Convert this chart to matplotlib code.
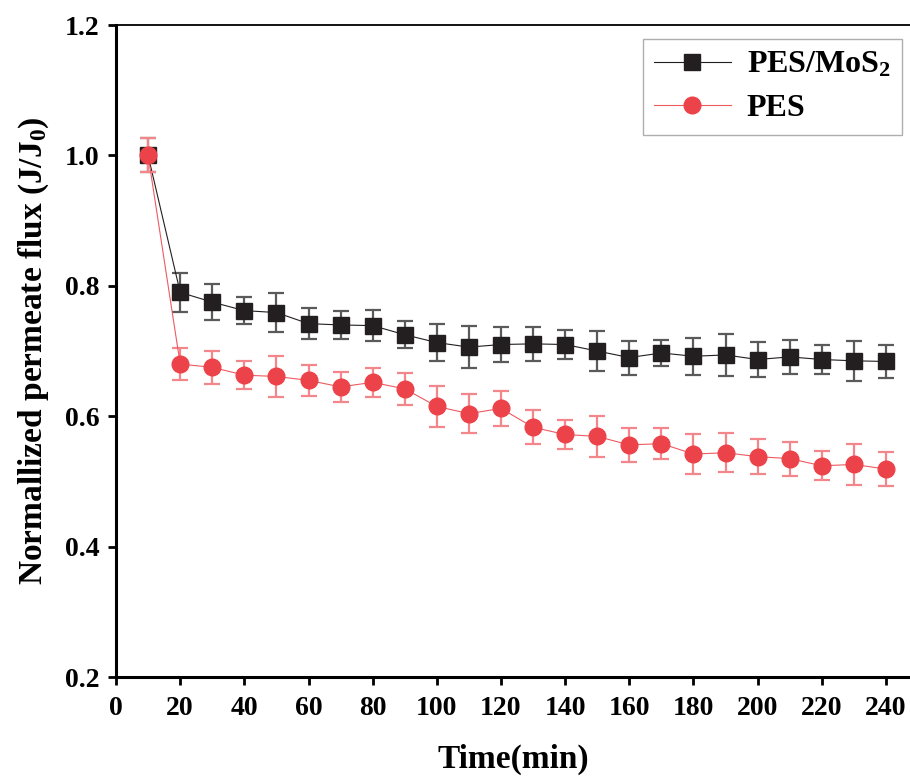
import numpy as np
import matplotlib
matplotlib.use("Agg")
import matplotlib.pyplot as plt

# data
time_min = [10, 20, 30, 40, 50, 60, 70, 80, 90, 100, 110, 120,
            130, 140, 150, 160, 170, 180, 190, 200, 210, 220, 230, 240]
mos2_flux = [1.000, 0.790, 0.775, 0.762, 0.759, 0.742, 0.740, 0.739, 0.725, 0.713, 0.706, 0.710,
             0.711, 0.710, 0.700, 0.690, 0.697, 0.692, 0.694, 0.687, 0.691, 0.687, 0.685, 0.684]
mos2_err = [0.026, 0.030, 0.028, 0.021, 0.030, 0.024, 0.021, 0.024, 0.021, 0.028, 0.032, 0.027,
            0.026, 0.022, 0.031, 0.026, 0.020, 0.028, 0.032, 0.027, 0.026, 0.022, 0.031, 0.026]
pes_flux = [1.000, 0.680, 0.675, 0.663, 0.661, 0.655, 0.645, 0.652, 0.642, 0.615, 0.604, 0.612,
            0.583, 0.572, 0.569, 0.556, 0.558, 0.542, 0.544, 0.538, 0.535, 0.524, 0.526, 0.519]
pes_err = [0.026, 0.024, 0.025, 0.022, 0.031, 0.024, 0.023, 0.022, 0.025, 0.031, 0.030, 0.027,
           0.026, 0.022, 0.031, 0.026, 0.024, 0.031, 0.030, 0.027, 0.026, 0.022, 0.031, 0.026]

xticks = np.arange(0, 241, 20)
yticks = [0.2, 0.4, 0.6, 0.8, 1.0, 1.2]

plt.rcParams['font.family'] = ['Liberation Serif', 'DejaVu Serif']
plt.rcParams['font.weight'] = 'bold'
plt.rcParams['mathtext.fontset'] = 'custom'
plt.rcParams['mathtext.rm'] = 'Liberation Serif:bold'
plt.rcParams['mathtext.it'] = 'Liberation Serif:bold'
plt.rcParams['mathtext.bf'] = 'Liberation Serif:bold'

fig = plt.figure(figsize=(9.1, 7.78), dpi=100)
ax = fig.add_axes([0.1275, 0.1298, 0.8725, 0.838])

e1 = ax.errorbar(time_min, mos2_flux, yerr=mos2_err, color='#231f20', lw=0.8,
                 marker='s', ms=11, mfc='#231f20', mec='#231f20',
                 ecolor='#5a5a5a', elinewidth=1.6, capsize=5.5, capthick=1.6,
                 zorder=2)
e2 = ax.errorbar(time_min, pes_flux, yerr=pes_err, color='#ee5a60', lw=0.8,
                 marker='o', ms=12, mfc='#ec4249', mec='#ec4249',
                 ecolor='#f3868b', elinewidth=1.6, capsize=5.5, capthick=1.6,
                 zorder=3)

ax.set_xlim(0, 247.5)
ax.set_ylim(0.2, 1.2)
ax.set_xticks(xticks)
ax.set_yticks(yticks)
ax.set_yticklabels(['%.1f' % v for v in yticks])

ax.spines['right'].set_visible(False)
ax.spines['left'].set_linewidth(2.2)
ax.spines['bottom'].set_linewidth(2.2)
ax.spines['top'].set_linewidth(1.3)
ax.tick_params(axis='both', direction='out', length=6, width=2, labelsize=20, pad=6)
ax.tick_params(axis='x', pad=8)
for lab in ax.get_xticklabels() + ax.get_yticklabels():
    lab.set_fontweight('bold')

ax.set_xlabel('Time(min)', fontsize=24, fontweight='bold', labelpad=16)
ax.set_ylabel('Normallized permeate flux (J/J$_0$)', fontsize=24, fontweight='bold', labelpad=10)

leg = ax.legend([e1[0], e2[0]], ['PES/MoS$_2$', 'PES'], loc='upper right',
                bbox_to_anchor=(0.990, 0.9785), borderaxespad=0, fontsize=23,
                frameon=True, fancybox=False, handlelength=2.4, borderpad=0.35,
                labelspacing=0.45, handletextpad=0.5)
leg.get_frame().set_edgecolor('#9a9a9a')
leg.get_frame().set_linewidth(1.0)
for t in leg.get_texts():
    t.set_fontweight('bold')

fig.savefig('out.png', dpi=100)
